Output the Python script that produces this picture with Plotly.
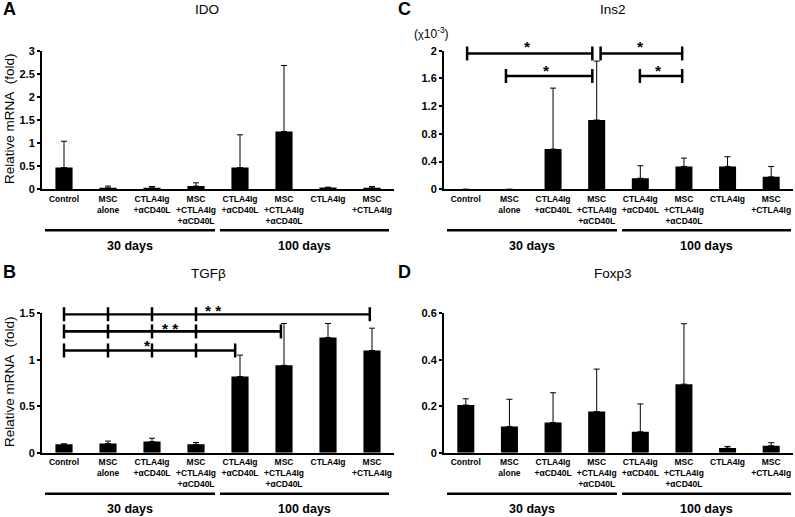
import plotly.graph_objects as go

# ---------------- data ----------------
categories = ["Control", "MSC<br>alone", "CTLA4Ig<br>+αCD40L", "MSC<br>+CTLA4Ig<br>+αCD40L",
              "CTLA4Ig<br>+αCD40L", "MSC<br>+CTLA4Ig<br>+αCD40L", "CTLA4Ig", "MSC<br>+CTLA4Ig"]
group_labels = ["30 days", "100 days"]

ido_mean = [0.47, 0.03, 0.03, 0.07, 0.47, 1.25, 0.04, 0.03]
ido_sd = [0.57, 0.04, 0.03, 0.07, 0.71, 1.43, 0.005, 0.03]
ido_ticks = [0, 0.5, 1, 1.5, 2, 2.5, 3]
ido_ticktext = ["0", "0.5", "1", "1.5", "2", "2.5", "3"]

tgfb_mean = [0.09, 0.10, 0.12, 0.09, 0.82, 0.94, 1.24, 1.10]
tgfb_sd = [0.005, 0.025, 0.035, 0.02, 0.23, 0.45, 0.15, 0.24]
tgfb_ticks = [0, 0.5, 1, 1.5]
tgfb_ticktext = ["0", "0.5", "1", "1.5"]

ins2_mean = [0, 0, 0.58, 1.00, 0.16, 0.33, 0.33, 0.18]
ins2_sd = [0, 0, 0.88, 0.85, 0.18, 0.12, 0.14, 0.15]
ins2_ticks = [0, 0.4, 0.8, 1.2, 1.6, 2]
ins2_ticktext = ["0", "0.4", "0.8", "1.2", "1.6", "2"]

foxp3_mean = [0.205, 0.113, 0.13, 0.177, 0.09, 0.295, 0.02, 0.03]
foxp3_sd = [0.027, 0.117, 0.128, 0.183, 0.12, 0.26, 0.007, 0.013]
foxp3_ticks = [0, 0.2, 0.4, 0.6]
foxp3_ticktext = ["0", "0.2", "0.4", "0.6"]

# significance brackets: (y level, x start, x end, cap positions, label, label x, label lift px)
tgfb_brackets = [
    (1.49, 0, 6.95, [0, 1, 2, 3, 6.95], "* *", 3.39, 7.3),
    (1.305, 0, 4.93, [0, 1, 2, 3, 4.93], "* *", 2.43, 6.2),
    (1.10, 0, 3.89, [0, 1, 2, 3, 3.89], "*", 1.90, 8),
]
ins2_brackets = [
    (1.96, 0.03, 2.9, [0.03, 2.9], "*", 1.41, 10),
    (1.635, 0.92, 2.9, [0.92, 2.9], "*", 1.84, 9),
    (1.96, 3.09, 4.96, [3.09, 4.96], "*", 4.0, 10),
    (1.635, 3.99, 4.96, [3.99, 4.96], "*", 4.42, 9),
]

# ---------------- layout helpers ----------------
W, H = 795, 517


def px(xp):
    return xp / W


def py(yp):
    return 1 - yp / H


panels = [
    dict(letter="A", title="IDO", mean=ido_mean, sd=ido_sd, ticks=ido_ticks, ticktext=ido_ticktext,
         yr=[0, 3], xd=(42, 394), yd=(50.7, 189.3), brackets=[], ytitle=True,
         title_x=207, title_y=9, letter_xy=(9, 9)),
    dict(letter="C", title="Ins2", mean=ins2_mean, sd=ins2_sd, ticks=ins2_ticks, ticktext=ins2_ticktext,
         yr=[0, 2], xd=(444, 793), yd=(50.7, 189.3), brackets=ins2_brackets, ytitle=False,
         title_x=613, title_y=9, letter_xy=(404, 9)),
    dict(letter="B", title="TGFβ", mean=tgfb_mean, sd=tgfb_sd, ticks=tgfb_ticks, ticktext=tgfb_ticktext,
         yr=[0, 1.5], xd=(42, 394), yd=(313.3, 452.7), brackets=tgfb_brackets, ytitle=True,
         title_x=208, title_y=273, letter_xy=(9, 272)),
    dict(letter="D", title="Foxp3", mean=foxp3_mean, sd=foxp3_sd, ticks=foxp3_ticks, ticktext=foxp3_ticktext,
         yr=[0, 0.6], xd=(444, 793), yd=(313.3, 452.7), brackets=[], ytitle=False,
         title_x=613, title_y=273, letter_xy=(404, 272)),
]

FONT = "Arial, Liberation Sans, sans-serif"
fig = go.Figure()
annotations = []
shapes = []
layout = {}

for i, p in enumerate(panels):
    n = "" if i == 0 else str(i + 1)
    xa, ya = "x" + n, "y" + n
    fig.add_trace(go.Bar(
        x=list(range(len(categories))), y=p["mean"], width=0.39,
        marker=dict(color="black", line=dict(width=0)),
        error_y=dict(type="data", array=p["sd"], arrayminus=[0] * len(p["sd"]), symmetric=False,
                     color="black", thickness=1, width=3),
        xaxis=xa, yaxis=ya, showlegend=False))
    for (lev, x0, x1, caps, lab, lx, lift) in p["brackets"]:
        fig.add_trace(go.Scatter(x=[x0, x1], y=[lev, lev], mode="lines",
                                 line=dict(color="black", width=2.6), xaxis=xa, yaxis=ya,
                                 showlegend=False, hoverinfo="skip"))
        fig.add_trace(go.Scatter(x=caps, y=[lev] * len(caps), mode="markers",
                                 marker=dict(symbol="line-ns", size=10, line=dict(color="black", width=2.5)),
                                 cliponaxis=False, xaxis=xa, yaxis=ya, showlegend=False, hoverinfo="skip"))
        annotations.append(dict(x=lx, y=lev, xref=xa, yref=ya, text="<b>" + lab + "</b>", showarrow=False,
                                xanchor="center", yanchor="middle", yshift=lift - 3.5,
                                font=dict(family=FONT, size=15.5, color="black")))

    layout["xaxis" + n] = dict(
        domain=[px(p["xd"][0]), px(p["xd"][1])], anchor=ya, range=[-0.5, 7.5],
        tickvals=list(range(len(categories))), ticktext=categories, ticks="", automargin=False,
        showline=True, linewidth=2, linecolor="black", showgrid=False, zeroline=False,
        tickfont=dict(family=FONT, size=8.5, color="black", weight="bold"), fixedrange=True)
    layout["yaxis" + n] = dict(
        domain=[py(p["yd"][1]), py(p["yd"][0])], anchor=xa, range=p["yr"], automargin=False,
        tickvals=p["ticks"], ticktext=p["ticktext"], ticks="outside", ticklen=3, tickwidth=1.5,
        tickcolor="black", showline=True, linewidth=2, linecolor="black", showgrid=False,
        zeroline=False, tickfont=dict(family=FONT, size=11, color="black", weight="bold"))

    # panel title and letter
    annotations.append(dict(x=px(p["title_x"]), y=py(p["title_y"]), xref="paper", yref="paper",
                            text=p["title"], showarrow=False, xanchor="center", yanchor="middle",
                            font=dict(family=FONT, size=13.5, color="black")))
    annotations.append(dict(x=px(p["letter_xy"][0]), y=py(p["letter_xy"][1]), xref="paper", yref="paper",
                            text="<b>" + p["letter"] + "</b>", showarrow=False, xanchor="center",
                            yanchor="middle", font=dict(family=FONT, size=18, color="black")))
    if p["ytitle"]:
        annotations.append(dict(x=px(9), y=py((p["yd"][0] + p["yd"][1]) / 2 - 1), xref="paper",
                                yref="paper", text="Relative mRNA\u00a0 (fold)", textangle=-90,
                                showarrow=False, xanchor="center", yanchor="middle",
                                font=dict(family=FONT, size=13.5, color="black")))

    # group lines and labels below axis
    x_left = p["xd"][0]
    line_y = p["yd"][1] + 41
    segs = [(x_left + 3, x_left + 173), (x_left + 178, x_left + 347)]
    for (s0, s1), gl in zip(segs, group_labels):
        shapes.append(dict(type="line", xref="paper", yref="paper", x0=px(s0), x1=px(s1),
                           y0=py(line_y), y1=py(line_y), line=dict(color="black", width=2.5)))
        annotations.append(dict(x=px((s0 + s1) / 2), y=py(line_y + 15.5), xref="paper", yref="paper",
                                text="<b>" + gl + "</b>", showarrow=False, xanchor="center",
                                yanchor="middle", font=dict(family=FONT, size=12.5, color="black")))

# (x10^-3) label for Ins2
annotations.append(dict(x=px(431), y=py(33), xref="paper", yref="paper",
                        text="(<span style='font-size:11px'>χ</span>10<sup>-3</sup>)", showarrow=False,
                        xanchor="center", yanchor="middle",
                        font=dict(family=FONT, size=12, color="black")))

fig.update_layout(
    width=W, height=H, margin=dict(l=0, r=0, t=0, b=0, autoexpand=False),
    paper_bgcolor="white", plot_bgcolor="white",
    annotations=annotations, shapes=shapes, bargap=0.6, **layout)

fig.write_html("out.html", config={"displayModeBar": False},
               post_script="document.body.style.margin='0';document.body.style.padding='0';")
